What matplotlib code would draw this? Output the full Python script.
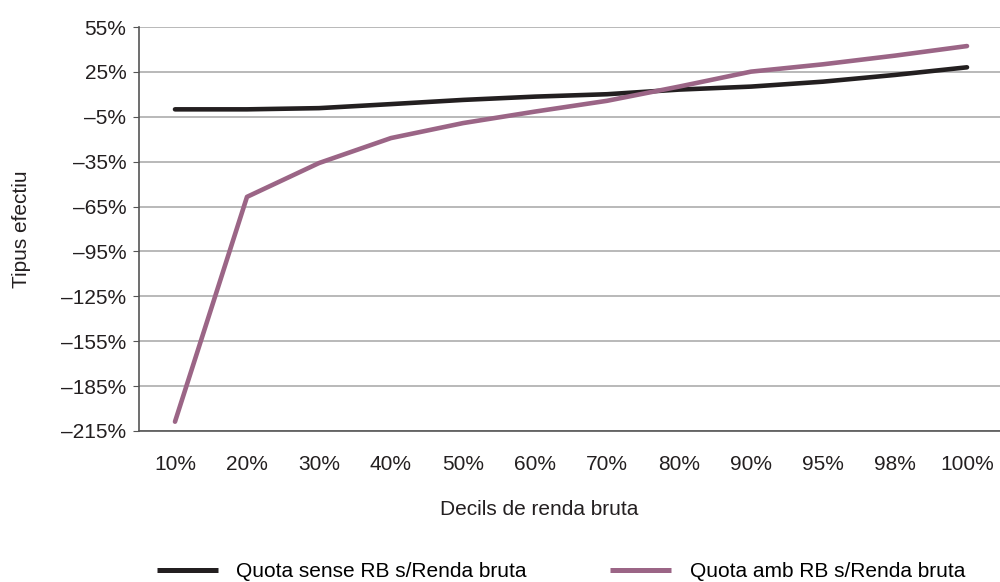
import numpy as np
import matplotlib.pyplot as plt

plt.rcParams['font.family'] = ['Liberation Sans', 'DejaVu Sans']

# ---------------- DADES ----------------
decils = ['10%', '20%', '30%', '40%', '50%', '60%', '70%', '80%', '90%', '95%', '98%', '100%']
quota_sense = [0.0, 0.0, 0.8, 3.5, 6.3, 8.5, 10.1, 13.2, 15.2, 18.5, 23.0, 28.1]
quota_amb = [-208.8, -58.5, -35.9, -19.2, -9.2, -1.5, 5.7, 15.2, 25.2, 30.1, 35.9, 42.3]
yticks = [55, 25, -5, -35, -65, -95, -125, -155, -185, -215]

# ---------------- GRÀFIC ----------------
fig = plt.figure(figsize=(10, 5.82), dpi=100)
ax = fig.add_axes([0.139, 0.2595, 0.864, 0.694])

x = np.arange(len(decils))
ax.plot(x, quota_sense, color='#231f20', linewidth=3.3, solid_capstyle='round',
        label='Quota sense RB s/Renda bruta', zorder=3)
ax.plot(x, quota_amb, color='#9b6586', linewidth=3.3, solid_capstyle='round',
        label='Quota amb RB s/Renda bruta', zorder=3)

ax.set_xlim(-0.5, len(decils) - 0.5)
ax.set_ylim(-215, 55)
ax.set_xticks(x)
ax.set_xticklabels(decils)
ax.set_yticks(yticks)
ax.set_yticklabels([f"{v}%".replace('-', '\u2013') for v in yticks])

ax.grid(axis='y', color='#b3b3b3', linewidth=1.3)
ax.set_axisbelow(True)
for s in ['top', 'right']:
    ax.spines[s].set_visible(False)
for s in ['left', 'bottom']:
    ax.spines[s].set_color('#555555')
    ax.spines[s].set_linewidth(1.2)

ax.tick_params(axis='y', length=4, color='#555555', labelsize=15, colors='#231f20', pad=5)
ax.tick_params(axis='x', length=0, labelsize=15, colors='#231f20', pad=17)

ax.set_xlabel('Decils de renda bruta', fontsize=15, color='#231f20')
ax.xaxis.set_label_coords(0.463, -0.172)
ax.set_ylabel('Tipus efectiu', fontsize=15, color='#231f20', labelpad=22)

leg = fig.legend(loc='center', bbox_to_anchor=(0.561, 0.018), ncol=2, frameon=False,
                 fontsize=15, handlelength=2.93, columnspacing=4.0, handletextpad=0.9)
for h in leg.get_lines():
    h.set_linewidth(3.6)
    h.set_solid_capstyle('butt')

fig.savefig('out.png', dpi=100)
